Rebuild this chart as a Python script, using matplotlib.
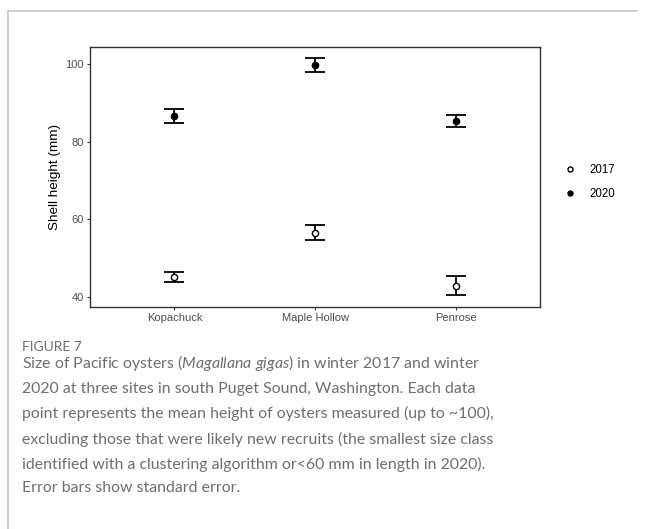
import numpy as np
import matplotlib.pyplot as plt
from matplotlib.lines import Line2D

plt.rcParams["font.family"] = "Liberation Sans"
plt.rcParams["mathtext.fontset"] = "custom"
plt.rcParams["mathtext.it"] = "Lato:italic"
plt.rcParams["mathtext.rm"] = "Lato"

sites = ["Kopachuck", "Maple Hollow", "Penrose"]
mean_2017 = [45.0, 56.5, 42.8]
se_2017 = [1.3, 2.0, 2.4]
mean_2020 = [86.6, 99.7, 85.3]
se_2020 = [1.8, 1.75, 1.6]

fig = plt.figure(figsize=(6.46, 5.29), dpi=100)

# light frame lines around the figure panel
fig.add_artist(Line2D([8/646, 637/646], [1-11/529, 1-11/529], color="#c8c8c8", lw=1.2))
fig.add_artist(Line2D([8/646, 8/646], [1-11/529, 0], color="#c8c8c8", lw=1.2))

ax = fig.add_axes([90/646, 1-307/529, 450/646, 260/529])
x = np.arange(1, len(sites) + 1)

ax.errorbar(x, mean_2017, yerr=se_2017, fmt="none", ecolor="black", elinewidth=1.3, capsize=7, capthick=1.3)
ax.errorbar(x, mean_2020, yerr=se_2020, fmt="none", ecolor="black", elinewidth=1.3, capsize=7, capthick=1.3)
ax.plot(x, mean_2017, "o", mfc="white", mec="black", ms=4.5, mew=1, label="2017")
ax.plot(x, mean_2020, "o", color="black", ms=4.5, label="2020")

ax.set_xlim(0.4, 3.6)
ax.set_ylim(37.3, 104.4)
ax.set_xticks(x)
ax.set_xticklabels(sites)
ax.set_yticks([40, 60, 80, 100])
ax.tick_params(labelsize=8, colors="#333333", length=2.5, width=0.8, pad=2)
for lab in ax.get_xticklabels() + ax.get_yticklabels():
    lab.set_color("#4d4d4d")
for s in ax.spines.values():
    s.set_color("#333333")
    s.set_linewidth(1.0)
ax.set_ylabel("Shell height (mm)", fontsize=9.7, labelpad=3)

leg = ax.legend(loc="center left", bbox_to_anchor=(1.03, 0.48), frameon=False, fontsize=8.3,
                handletextpad=1.2, labelspacing=1.0, handlelength=1.0, markerscale=0.8)

fig.text(22/646, 1-347/529, "FIGURE 7", fontsize=10, color="#6e6e6e", family="Lato", va="center")
caption = ("Size of Pacific oysters ($\\it{Magallana\\ gigas}$) in winter 2017 and winter\n"
           "2020 at three sites in south Puget Sound, Washington. Each data\n"
           "point represents the mean height of oysters measured (up to ~100),\n"
           "excluding those that were likely new recruits (the smallest size class\n"
           "identified with a clustering algorithm or<60 mm in length in 2020).\n"
           "Error bars show standard error.")
fig.text(22/646, 1-353/529, caption, fontsize=11.45, color="#6e6e6e", family="Lato",
         va="top", linespacing=1.84)

fig.savefig("out.png", dpi=100)
